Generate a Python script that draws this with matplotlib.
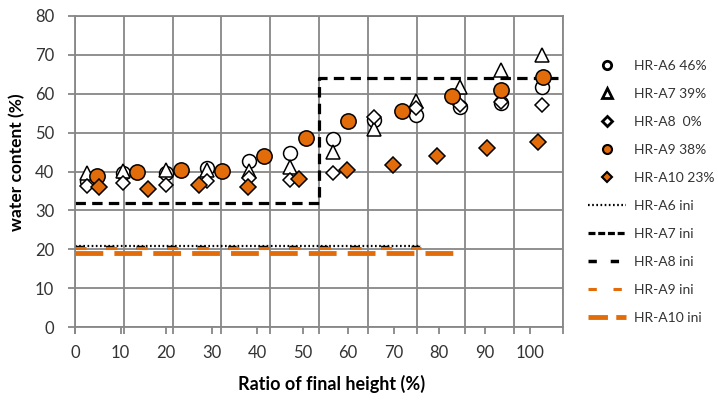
import matplotlib
matplotlib.use('Agg')
import matplotlib.pyplot as plt
from matplotlib.lines import Line2D

plt.rcParams['font.family'] = ['Lato', 'DejaVu Sans']
plt.rcParams['lines.scale_dashes'] = False

orange = '#E36C0A'
grey = '#878787'
txt = '#333333'

# measured points (x = ratio of final height, y = water content)
pos_x = [2.5, 9.9, 18.7, 27.0, 35.6, 44.1, 52.9, 61.3, 69.9, 78.8, 87.2, 95.6]
a6_y = [37.6, 39.5, 39.6, 40.8, 42.7, 44.8, 48.3, 53.2, 54.5, 56.6, 57.5, 61.8]
a7_y = [39.5, 40.2, 40.3, 40.3, 40.2, 41.2, 45.1, 51.0, 58.2, 61.8, 66.2, 70.0]
a8_y = [36.3, 37.0, 36.5, 37.6, 38.2, 37.9, 39.5, 54.1, 56.3, 57.0, 57.8, 57.1]
a9_x = [4.6, 12.8, 21.7, 30.1, 38.7, 47.3, 56.0, 67.1, 77.2, 87.3, 95.8]
a9_y = [38.8, 40.0, 40.4, 40.1, 44.0, 48.5, 53.1, 55.6, 59.5, 60.9, 64.4]
a10_x = [4.9, 15.0, 25.4, 35.4, 45.9, 55.7, 65.1, 74.2, 84.4, 94.9]
a10_y = [35.9, 35.4, 36.5, 36.1, 38.0, 40.5, 41.8, 44.0, 46.0, 47.5]

# initial water content lines
a6_ini_x = [0, 71]
a6_ini_y = [20.8, 20.8]
a7_ini_x = [0, 50, 50, 99]
a7_ini_y = [32, 32, 64, 64]
a8_ini_x = [0, 71]
a8_ini_y = [20.5, 20.5]
a9_ini_x = [0, 71]
a9_ini_y = [20.2, 20.2]
a10_ini_x = [0, 79]
a10_ini_y = [19.0, 19.0]

labels = ['HR-A6 46%', 'HR-A7 39%', 'HR-A8  0%', 'HR-A9 38%', 'HR-A10 23%',
          'HR-A6 ini', 'HR-A7 ini', 'HR-A8 ini', 'HR-A9 ini', 'HR-A10 ini']

fig = plt.figure(figsize=(7.18, 4.05), dpi=100)
ax = fig.add_axes([75/718, 1-327/405, 488/718, 311/405])

ax.plot(a6_ini_x, a6_ini_y, color='black', lw=1.6, dashes=(1.2, 1.8), zorder=2)
ax.plot(a7_ini_x, a7_ini_y, color='black', lw=2.3, dashes=(7.5, 4.5), zorder=2)
ax.plot(a8_ini_x, a8_ini_y, color='black', lw=2.5, dashes=(6, 16), zorder=2)
ax.plot(a9_ini_x, a9_ini_y, color=orange, lw=2.2, dashes=(8, 14), zorder=2)
ax.plot(a10_ini_x, a10_ini_y, color=orange, lw=3.5, dashes=(20, 8), zorder=2)

ax.plot(pos_x, a6_y, 'o', ms=10, mfc='white', mec='black', mew=1.1, zorder=3)
ax.plot(pos_x, a7_y, '^', ms=10.5, mfc='white', mec='black', mew=1.1, zorder=3)
ax.plot(pos_x, a8_y, 'D', ms=7.5, mfc='white', mec='black', mew=1.1, zorder=3)
ax.plot(a9_x, a9_y, 'o', ms=11, mfc=orange, mec='black', mew=1.1, zorder=3)
ax.plot(a10_x, a10_y, 'D', ms=8, mfc=orange, mec='black', mew=1.1, zorder=3)

ax.set_xlim(0, 100)
ax.set_ylim(0, 80)
ax.set_xticks(range(0, 101, 10))
ax.set_yticks(range(0, 81, 10))
ax.grid(True, color=grey, lw=1.3)
ax.set_axisbelow(True)
for s in ax.spines.values():
    s.set_color(grey)
    s.set_linewidth(1.3)
ax.tick_params(axis='x', labelbottom=False, length=5, color=grey, width=1.3)
ax.tick_params(axis='y', length=5, color=grey, width=1.3, labelsize=12,
               labelcolor=txt, pad=10)

# the labelled x axis is slightly narrower than the grid
sec = ax.secondary_xaxis('bottom', functions=(lambda g: g / 0.933,
                                              lambda v: 0.933 * v))
sec.set_xticks(range(0, 101, 10))
sec.spines['bottom'].set_visible(False)
sec.tick_params(length=5, color=grey, width=1.3, labelsize=12,
                labelcolor=txt, pad=8)

fig.text(332/718, 1 - 384/405, 'Ratio of final height (%)',
         ha='center', va='center', fontsize=13, fontweight='bold', color='black')
fig.text(17/718, 1 - 162/405, 'water content (%)', rotation=90,
         ha='center', va='center', fontsize=12.5, fontweight='bold', color='black')

handles = [
    Line2D([], [], ls='none', marker='o', ms=6, mfc='white', mec='black', mew=2),
    Line2D([], [], ls='none', marker='^', ms=6.5, mfc='white', mec='black', mew=2),
    Line2D([], [], ls='none', marker='D', ms=5, mfc='white', mec='black', mew=2),
    Line2D([], [], ls='none', marker='o', ms=6.5, mfc=orange, mec='black', mew=1.5),
    Line2D([], [], ls='none', marker='D', ms=5.5, mfc=orange, mec='black', mew=1.5),
    Line2D([], [], color='black', lw=1.6, dashes=(1.2, 1.8)),
    Line2D([], [], color='black', lw=2.3, dashes=(5, 2)),
    Line2D([], [], color='black', lw=2.5, dashes=(6, 10)),
    Line2D([], [], color=orange, lw=2.2, dashes=(6, 12)),
    Line2D([], [], color=orange, lw=3.5, dashes=(14, 6)),
]
fig.legend(handles, labels, loc='upper left', bbox_to_anchor=(588/718, 1 - 60/405),
           frameon=False, fontsize=10, handlelength=2.7, handletextpad=0.6,
           labelspacing=1.15, borderpad=0, borderaxespad=0, labelcolor=txt)

fig.savefig('out.png', dpi=100)
